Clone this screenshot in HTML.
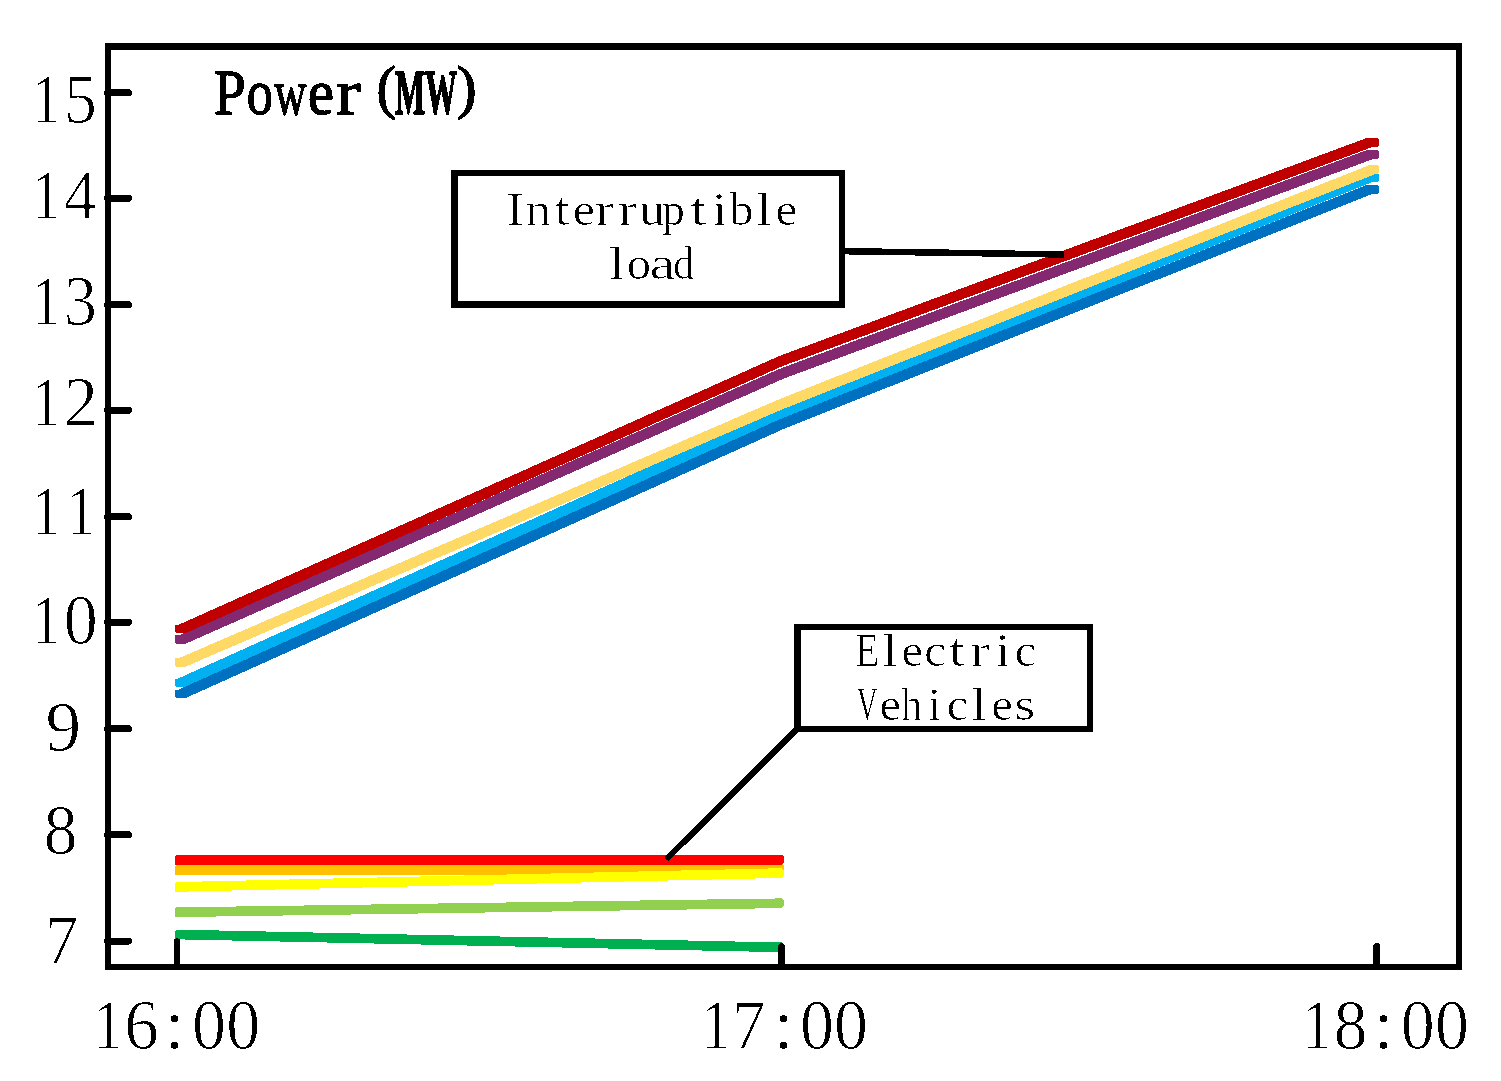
<!DOCTYPE html>
<html lang="en"><head><meta charset="utf-8"><title>Power (MW) chart</title>
<style>html,body{margin:0;padding:0;background:#fff;width:1501px;height:1081px;overflow:hidden}svg{display:block}text{font-family:"Liberation Serif","Noto Serif CJK SC",serif;fill:#000}</style></head><body>
<svg width="1501" height="1081" viewBox="0 0 1501 1081">
<title>Power (MW) from 16:00 to 18:00</title>
<desc>Line chart. Y axis Power(MW) with ticks 7 8 9 10 11 12 13 14 15; X axis 16:00 17:00 18:00. Callouts: Interruptible load, Electric Vehicles.</desc>
<rect width="1501" height="1081" fill="#fff"/>
<defs><filter id="bw" filterUnits="userSpaceOnUse" x="0" y="0" width="1501" height="1081" color-interpolation-filters="sRGB"><feComponentTransfer><feFuncR type="discrete" tableValues="0 1"/><feFuncG type="discrete" tableValues="0 1"/><feFuncB type="discrete" tableValues="0 1"/><feFuncA type="discrete" tableValues="0 1"/></feComponentTransfer></filter><filter id="bw2" filterUnits="userSpaceOnUse" x="0" y="0" width="1501" height="1081" color-interpolation-filters="sRGB"><feComponentTransfer><feFuncR type="discrete" tableValues="0 0 1"/><feFuncG type="discrete" tableValues="0 0 1"/><feFuncB type="discrete" tableValues="0 0 1"/><feFuncA type="discrete" tableValues="0 1"/></feComponentTransfer></filter></defs>
<g fill="none" stroke-linejoin="round" stroke-linecap="butt" shape-rendering="crispEdges">
<polygon fill="#00B0F0" stroke="none" points="175.0,678.6 177.9,678.6 778.8,408.3 1365.4,173.0 1377.2,173.0 1379.0,174.8 1379.0,180.8 1378.2,181.6 1373.5,181.6 783.2,418.5 186.1,687.0 176.6,687.0 175.0,685.4"/>
<polygon fill="#0070C0" stroke="none" points="175.0,689.7 178.5,689.7 778.9,419.6 1366.6,184.9 1377.2,184.9 1379.0,186.7 1379.0,192.7 1378.2,193.5 1373.4,193.5 783.1,429.2 185.5,698.1 176.6,698.1 175.0,696.5"/>
<polygon fill="#FFD966" stroke="none" points="175.0,658.3 178.5,658.3 779.0,399.3 1369.1,165.2 1377.2,165.2 1379.0,167.0 1379.0,173.0 1378.2,173.8 1375.9,173.8 783.0,409.1 185.5,666.7 176.6,666.7 175.0,665.1"/>
<polygon fill="#842970" stroke="none" points="175.0,635.4 178.5,635.4 779.0,369.1 1367.5,149.9 1377.2,149.9 1379.0,151.7 1379.0,157.7 1378.2,158.5 1374.4,158.5 783.0,378.9 185.5,643.8 176.6,643.8 175.0,642.2"/>
<polygon fill="#C00000" stroke="none" points="175.0,624.8 178.5,624.8 779.0,356.1 1366.4,138.1 1377.2,138.1 1379.0,139.9 1379.0,145.9 1378.2,146.7 1373.4,146.7 783.0,365.9 185.5,633.2 176.6,633.2 175.0,631.6"/>
<polygon fill="#FFC000" stroke="none" points="175.0,866.5 176.5,865.0 781.8,863.7 784.0,865.9 784.0,871.9 781.8,874.2 175.8,875.5 175.0,874.8"/>
<polygon fill="#FFFF00" stroke="none" points="175.0,883.6 176.5,882.1 781.8,868.2 784.0,870.4 784.0,875.6 781.8,877.9 175.8,891.8 175.0,891.1"/>
<polygon fill="#FF0000" stroke="none" points="175.0,856.6 176.5,855.1 781.8,854.8 784.0,857.0 784.0,862.2 781.8,864.5 175.8,864.8 175.0,864.1"/>
<polygon fill="#92D050" stroke="none" points="175.0,908.9 176.5,907.4 781.8,898.4 784.0,900.6 784.0,905.9 781.8,908.1 175.8,917.1 175.0,916.4"/>
<polygon fill="#00B050" stroke="none" points="175.0,931.0 176.5,929.6 781.8,942.5 784.0,944.8 784.0,950.0 781.8,952.2 175.8,939.3 175.0,938.5"/>
</g>
<g fill="none" stroke="#000" shape-rendering="crispEdges">
<rect x="108" y="46.5" width="1351" height="920.5" stroke-width="6.5"/>
<line x1="107.5" y1="92.5" x2="128.5" y2="92.5" stroke-width="7" stroke-linecap="round"/>
<line x1="107.5" y1="198.4" x2="128.5" y2="198.4" stroke-width="7" stroke-linecap="round"/>
<line x1="107.5" y1="304.5" x2="128.5" y2="304.5" stroke-width="7" stroke-linecap="round"/>
<line x1="107.5" y1="410.4" x2="128.5" y2="410.4" stroke-width="7" stroke-linecap="round"/>
<line x1="107.5" y1="516.7" x2="128.5" y2="516.7" stroke-width="7" stroke-linecap="round"/>
<line x1="107.5" y1="622.4" x2="128.5" y2="622.4" stroke-width="7" stroke-linecap="round"/>
<line x1="107.5" y1="728.8" x2="128.5" y2="728.8" stroke-width="7" stroke-linecap="round"/>
<line x1="107.5" y1="834.8" x2="128.5" y2="834.8" stroke-width="7" stroke-linecap="round"/>
<line x1="107.5" y1="941" x2="128.5" y2="941" stroke-width="7" stroke-linecap="round"/>
<line x1="177" y1="967" x2="177" y2="941.5" stroke-width="6.5" stroke-linecap="round"/>
<line x1="781.5" y1="967" x2="781.5" y2="946.5" stroke-width="7" stroke-linecap="round"/>
<line x1="1376.6" y1="967" x2="1376.6" y2="946.5" stroke-width="7" stroke-linecap="round"/>
<rect x="454.5" y="173.2" width="387.3" height="131.3" stroke-width="6.5" fill="#fff"/>
<line x1="845" y1="251.2" x2="1064" y2="254.5" stroke-width="6.5"/>
<rect x="797.4" y="626.8" width="292.6" height="102" stroke-width="6.5" fill="#fff"/>
<line x1="797.5" y1="728.5" x2="668.3" y2="857.3" stroke-width="6.2" stroke-linecap="round"/>
</g>
<g filter="url(#bw)">
<g font-size="71" stroke="#fff" stroke-width="0.9">
<text aria-label="15" y="122.8"><tspan x="31.91" textLength="28.97" lengthAdjust="spacingAndGlyphs">1</tspan><tspan x="64.04" textLength="32.77" lengthAdjust="spacingAndGlyphs">5</tspan></text>
<text aria-label="14" y="219.4"><tspan x="31.91" textLength="28.97" lengthAdjust="spacingAndGlyphs">1</tspan><tspan x="63.82" textLength="32.70" lengthAdjust="spacingAndGlyphs">4</tspan></text>
<text aria-label="13" y="325.4"><tspan x="31.91" textLength="28.97" lengthAdjust="spacingAndGlyphs">1</tspan><tspan x="63.63" textLength="33.17" lengthAdjust="spacingAndGlyphs">3</tspan></text>
<text aria-label="12" y="425.6"><tspan x="31.91" textLength="28.97" lengthAdjust="spacingAndGlyphs">1</tspan><tspan x="63.80" textLength="34.17" lengthAdjust="spacingAndGlyphs">2</tspan></text>
<text aria-label="11" y="535.3"><tspan x="31.91" textLength="28.97" lengthAdjust="spacingAndGlyphs">1</tspan><tspan x="66.81" textLength="28.97" lengthAdjust="spacingAndGlyphs">1</tspan></text>
<text aria-label="10" y="644.3"><tspan x="31.91" textLength="28.97" lengthAdjust="spacingAndGlyphs">1</tspan><tspan x="63.66" textLength="33.98" lengthAdjust="spacingAndGlyphs">0</tspan></text>
<text aria-label="9" y="751.4"><tspan x="45.45" textLength="35.62" lengthAdjust="spacingAndGlyphs">9</tspan></text>
<text aria-label="8" y="854.4"><tspan x="43.84" textLength="33.62" lengthAdjust="spacingAndGlyphs">8</tspan></text>
<text aria-label="7" y="964.4"><tspan x="44.74" textLength="33.80" lengthAdjust="spacingAndGlyphs">7</tspan></text>
<text aria-label="16:00" y="1048.6"><tspan x="93.16" textLength="28.97" lengthAdjust="spacingAndGlyphs">1</tspan><tspan x="124.18" textLength="34.52" lengthAdjust="spacingAndGlyphs">6</tspan><tspan x="164.27" textLength="20.71" lengthAdjust="spacingAndGlyphs">:</tspan><tspan x="191.96" textLength="33.98" lengthAdjust="spacingAndGlyphs">0</tspan><tspan x="226.26" textLength="33.98" lengthAdjust="spacingAndGlyphs">0</tspan></text>
<text aria-label="17:00" y="1048.6"><tspan x="701.21" textLength="28.97" lengthAdjust="spacingAndGlyphs">1</tspan><tspan x="731.89" textLength="33.80" lengthAdjust="spacingAndGlyphs">7</tspan><tspan x="773.27" textLength="20.71" lengthAdjust="spacingAndGlyphs">:</tspan><tspan x="800.06" textLength="33.98" lengthAdjust="spacingAndGlyphs">0</tspan><tspan x="834.06" textLength="33.98" lengthAdjust="spacingAndGlyphs">0</tspan></text>
<text aria-label="18:00" y="1048.6"><tspan x="1302.21" textLength="28.97" lengthAdjust="spacingAndGlyphs">1</tspan><tspan x="1333.79" textLength="33.62" lengthAdjust="spacingAndGlyphs">8</tspan><tspan x="1373.27" textLength="20.71" lengthAdjust="spacingAndGlyphs">:</tspan><tspan x="1400.76" textLength="33.98" lengthAdjust="spacingAndGlyphs">0</tspan><tspan x="1435.06" textLength="33.98" lengthAdjust="spacingAndGlyphs">0</tspan></text>
</g>
<g font-size="46" stroke="#fff" stroke-width="0.8" filter="url(#bw2)">
<text aria-label="Interruptible" y="225.3"><tspan x="505.63" textLength="19.09" lengthAdjust="spacingAndGlyphs">I</tspan><tspan x="525.53" textLength="25.55" lengthAdjust="spacingAndGlyphs">n</tspan><tspan x="554.16" textLength="15.47" lengthAdjust="spacingAndGlyphs">t</tspan><tspan x="572.74" textLength="22.31" lengthAdjust="spacingAndGlyphs">e</tspan><tspan x="594.46" textLength="19.91" lengthAdjust="spacingAndGlyphs">r</tspan><tspan x="617.61" textLength="19.91" lengthAdjust="spacingAndGlyphs">r</tspan><tspan x="638.91" textLength="26.19" lengthAdjust="spacingAndGlyphs">u</tspan><tspan x="661.85" textLength="23.16" lengthAdjust="spacingAndGlyphs">p</tspan><tspan x="690.02" textLength="16.53" lengthAdjust="spacingAndGlyphs">t</tspan><tspan x="711.23" textLength="16.61" lengthAdjust="spacingAndGlyphs">i</tspan><tspan x="729.60" textLength="23.92" lengthAdjust="spacingAndGlyphs">b</tspan><tspan x="755.59" textLength="16.61" lengthAdjust="spacingAndGlyphs">l</tspan><tspan x="775.58" textLength="21.83" lengthAdjust="spacingAndGlyphs">e</tspan></text>
<text aria-label="load" y="279"><tspan x="608.19" textLength="16.61" lengthAdjust="spacingAndGlyphs">l</tspan><tspan x="626.85" textLength="24.30" lengthAdjust="spacingAndGlyphs">o</tspan><tspan x="649.69" textLength="25.39" lengthAdjust="spacingAndGlyphs">a</tspan><tspan x="673.21" textLength="20.59" lengthAdjust="spacingAndGlyphs">d</tspan></text>
<text aria-label="Electric" y="666.2"><tspan x="855.58" textLength="23.64" lengthAdjust="spacingAndGlyphs">E</tspan><tspan x="881.69" textLength="16.61" lengthAdjust="spacingAndGlyphs">l</tspan><tspan x="901.40" textLength="21.59" lengthAdjust="spacingAndGlyphs">e</tspan><tspan x="924.33" textLength="21.78" lengthAdjust="spacingAndGlyphs">c</tspan><tspan x="948.88" textLength="16.61" lengthAdjust="spacingAndGlyphs">t</tspan><tspan x="969.91" textLength="19.91" lengthAdjust="spacingAndGlyphs">r</tspan><tspan x="994.53" textLength="16.61" lengthAdjust="spacingAndGlyphs">i</tspan><tspan x="1014.78" textLength="21.19" lengthAdjust="spacingAndGlyphs">c</tspan></text>
<text aria-label="Vehicles" y="719.9"><tspan x="856.67" textLength="20.95" lengthAdjust="spacingAndGlyphs">V</tspan><tspan x="879.40" textLength="21.59" lengthAdjust="spacingAndGlyphs">e</tspan><tspan x="900.89" textLength="20.96" lengthAdjust="spacingAndGlyphs">h</tspan><tspan x="926.83" textLength="15.54" lengthAdjust="spacingAndGlyphs">i</tspan><tspan x="946.88" textLength="21.19" lengthAdjust="spacingAndGlyphs">c</tspan><tspan x="970.59" textLength="16.61" lengthAdjust="spacingAndGlyphs">l</tspan><tspan x="991.41" textLength="21.47" lengthAdjust="spacingAndGlyphs">e</tspan><tspan x="1014.42" textLength="20.70" lengthAdjust="spacingAndGlyphs">s</tspan></text>
</g>
<text aria-label="Power(MW)" y="113.6" font-size="64" stroke="#000" stroke-width="1.3" stroke-linejoin="round"><tspan x="213.74" textLength="32.07" lengthAdjust="spacingAndGlyphs" y="113.6">P</tspan><tspan x="246.81" textLength="26.19" lengthAdjust="spacingAndGlyphs" y="113.6">o</tspan><tspan x="274.16" textLength="32.14" lengthAdjust="spacingAndGlyphs" y="113.6">w</tspan><tspan x="307.69" textLength="26.26" lengthAdjust="spacingAndGlyphs" y="113.6">e</tspan><tspan x="336.13" textLength="24.51" lengthAdjust="spacingAndGlyphs" y="113.6">r</tspan><tspan x="376.45" textLength="19.32" lengthAdjust="spacingAndGlyphs" y="107" font-size="60">(</tspan><tspan x="395.04" textLength="30.20" lengthAdjust="spacingAndGlyphs" y="113.6" font-weight="bold" stroke-width="1.6">M</tspan><tspan x="424.92" textLength="32.00" lengthAdjust="spacingAndGlyphs" y="113.6" font-weight="bold" stroke-width="1.6">W</tspan><tspan x="456.67" textLength="19.97" lengthAdjust="spacingAndGlyphs" y="107" font-size="60">)</tspan></text>
</g>
</svg></body></html>
